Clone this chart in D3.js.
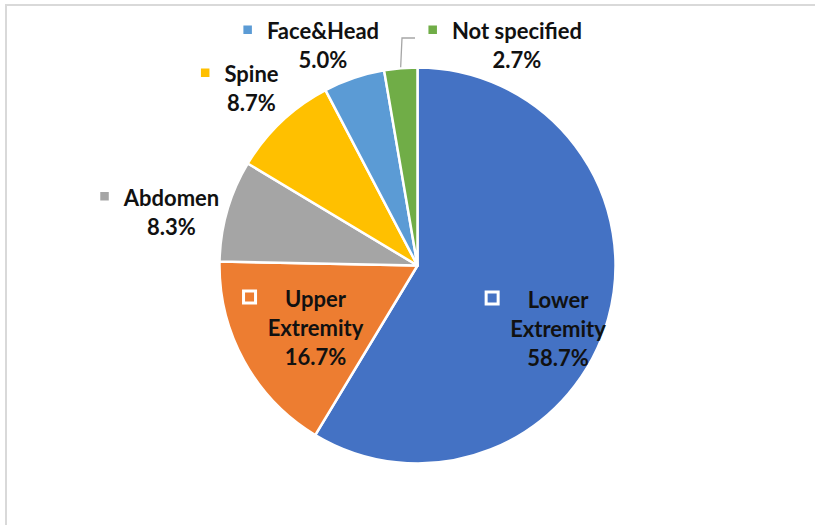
<!DOCTYPE html>
<html>
<head>
<meta charset="utf-8">
<script src="https://cdn.jsdelivr.net/npm/d3@7"></script>
<style>
  body { margin: 0; background: #fff; }
  text { font-family: Lato, "Open Sans", sans-serif; font-weight: bold; fill: #111; }
</style>
</head>
<body>
<div id="chart"></div>
<script>
// data, clockwise from 12 o'clock
var categories = ["Lower Extremity", "Upper Extremity", "Abdomen", "Spine", "Face&Head", "Not specified"];
var values = [58.7, 16.7, 8.3, 8.7, 5.0, 2.7];
var colors = ["#4472c4", "#ed7d31", "#a5a5a5", "#ffc000", "#5b9bd5", "#70ad47"];

// label layout (offsets from pie centre), lines of text and inside/outside
var labelLines = [["Lower", "Extremity"], ["Upper", "Extremity"], ["Abdomen"], ["Spine"], ["Face&Head"], ["Not specified"]];
var labelPos = [[140.5, 42.5], [-102, 41.5], [-246, -60], [-166, -183.5], [-94.5, -226.5], [99.5, -226.5]];
var inside = [true, true, false, false, false, false];

var w = 815, h = 525,
  cx = 417.5, cy = 265.5,
  radius = 198,
  lineH = 29;

var svg = d3.select("#chart").append("svg")
  .attr("width", w)
  .attr("height", h);

// chart frame
svg.append("rect")
  .attr("x", 6).attr("y", 5)
  .attr("width", w + 20).attr("height", h + 20)
  .attr("fill", "none")
  .attr("stroke", "#d9d9d9")
  .attr("stroke-width", 2);

var pie = d3.pie().sort(null).value(function(d) { return d; });
var arc = d3.arc().innerRadius(0).outerRadius(radius);
var arcs = pie(values);

var g = svg.append("g").attr("transform", "translate(" + cx + "," + cy + ")");

g.selectAll("path.slice")
  .data(arcs)
  .enter()
  .append("path")
  .attr("class", "slice")
  .attr("d", arc)
  .attr("fill", function(d, i) { return colors[i]; })
  .attr("stroke", "#fff")
  .attr("stroke-width", 2.5)
  .attr("stroke-linejoin", "round");

// leader line for the small slice
var nsArc = arcs[5];
var nsMid = (nsArc.startAngle + nsArc.endAngle) / 2;
var pEdge = [Math.sin(nsMid) * (radius + 1), -Math.cos(nsMid) * (radius + 1)];
g.append("polyline")
  .attr("points", [[-2.5, -227.5], [-15.5, -227.5], pEdge].map(function(p) { return p.join(","); }).join(" "))
  .attr("fill", "none")
  .attr("stroke", "#a6a6a6")
  .attr("stroke-width", 1.3);

var labels = g.selectAll("g.label")
  .data(arcs)
  .enter()
  .append("g")
  .attr("class", "label")
  .attr("transform", function(d, i) { return "translate(" + labelPos[i][0] + "," + labelPos[i][1] + ")"; });

labels.each(function(d, i) {
  var lg = d3.select(this);
  var lines = labelLines[i].concat([values[i].toFixed(1) + "%"]);
  lines.forEach(function(t, j) {
    lg.append("text")
      .attr("x", 0)
      .attr("y", j * lineH)
      .attr("text-anchor", "middle")
      .style("font-size", "22px")
      .text(t);
  });
  // legend key in front of first line
  var firstW = lg.select("text").node().getComputedTextLength();
  if (inside[i]) {
    lg.append("rect")
      .attr("x", -firstW / 2 - 28 - 13.5).attr("y", -16)
      .attr("width", 12).attr("height", 12)
      .attr("fill", colors[i])
      .attr("stroke", "#fff")
      .attr("stroke-width", 3);
  } else {
    lg.append("rect")
      .attr("x", -firstW / 2 - 15 - 8.5).attr("y", -13.5)
      .attr("width", 8.5).attr("height", 8.5)
      .attr("fill", colors[i]);
  }
});
</script>
</body>
</html>
